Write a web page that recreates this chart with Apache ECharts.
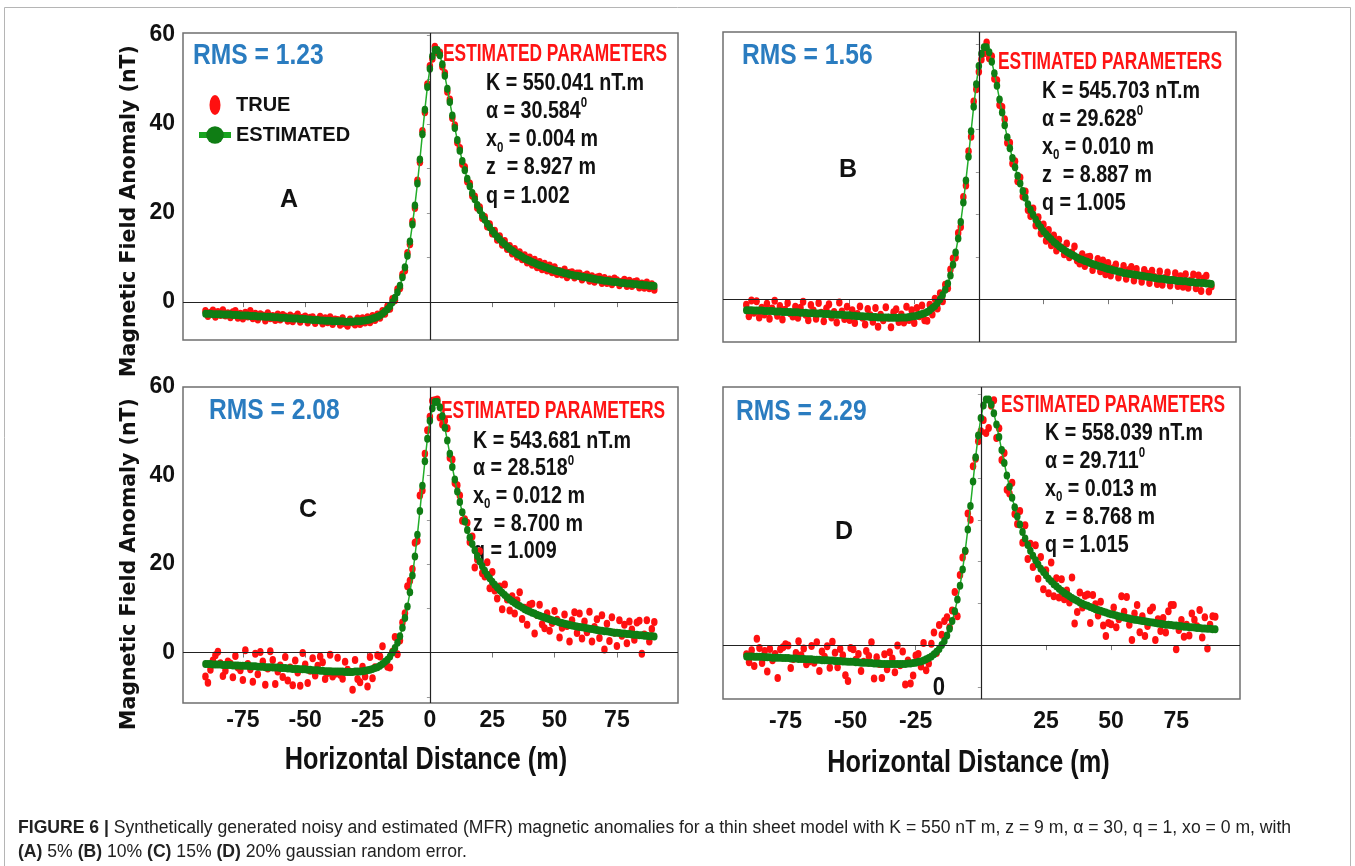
<!DOCTYPE html>
<html><head><meta charset="utf-8">
<script src="https://cdn.jsdelivr.net/npm/echarts@6/dist/echarts.min.js"></script>
<style>html,body{margin:0;padding:0;background:#fff}#c{width:1355px;height:866px}</style>
</head><body><div id="c"></div>
<script>
// ---------------- DATA ----------------
const xs = [-90,-89,-88,-87,-86,-85,-84,-83,-82,-81,-80,-79,-78,-77,-76,-75,-74,-73,-72,-71,-70,-69,-68,-67,-66,-65,-64,-63,-62,-61,-60,-59,-58,-57,-56,-55,-54,-53,-52,-51,-50,-49,-48,-47,-46,-45,-44,-43,-42,-41,-40,-39,-38,-37,-36,-35,-34,-33,-32,-31,-30,-29,-28,-27,-26,-25,-24,-23,-22,-21,-20,-19,-18,-17,-16,-15,-14,-13,-12,-11,-10,-9,-8,-7,-6,-5,-4,-3,-2,-1,0,1,2,3,4,5,6,7,8,9,10,11,12,13,14,15,16,17,18,19,20,21,22,23,24,25,26,27,28,29,30,31,32,33,34,35,36,37,38,39,40,41,42,43,44,45,46,47,48,49,50,51,52,53,54,55,56,57,58,59,60,61,62,63,64,65,66,67,68,69,70,71,72,73,74,75,76,77,78,79,80,81,82,83,84,85,86,87,88,89,90];

const estA = [-2.6,-2.6,-2.6,-2.7,-2.7,-2.7,-2.7,-2.8,-2.8,-2.8,
-2.8,-2.9,-2.9,-2.9,-3.0,-3.0,-3.0,-3.0,-3.1,-3.1,
-3.1,-3.2,-3.2,-3.2,-3.3,-3.3,-3.3,-3.4,-3.4,-3.4,
-3.5,-3.5,-3.5,-3.6,-3.6,-3.7,-3.7,-3.7,-3.8,-3.8,
-3.8,-3.9,-3.9,-4.0,-4.0,-4.0,-4.1,-4.1,-4.2,-4.2,
-4.2,-4.3,-4.3,-4.3,-4.3,-4.3,-4.4,-4.4,-4.4,-4.4,
-4.3,-4.3,-4.3,-4.2,-4.1,-4.0,-3.9,-3.7,-3.5,-3.3,
-3.0,-2.6,-2.1,-1.6,-0.9,0.0,1.0,2.2,3.7,5.6,
7.8,10.4,13.6,17.4,21.7,26.6,32.0,37.7,43.2,48.3,
52.4,55.2,56.6,56.6,55.4,53.4,50.8,47.9,44.9,41.9,
39.1,36.4,34.0,31.7,29.6,27.7,26.0,24.5,23.1,21.8,
20.6,19.5,18.5,17.6,16.8,16.0,15.3,14.7,14.1,13.5,
13.0,12.5,12.0,11.6,11.2,10.8,10.5,10.2,9.8,9.5,
9.3,9.0,8.8,8.5,8.3,8.1,7.9,7.7,7.5,7.3,
7.1,7.0,6.8,6.7,6.5,6.4,6.2,6.1,6.0,5.9,
5.8,5.7,5.6,5.5,5.4,5.3,5.2,5.1,5.0,4.9,
4.8,4.8,4.7,4.6,4.5,4.5,4.4,4.3,4.3,4.2,
4.2,4.1,4.0,4.0,3.9,3.9,3.8,3.8,3.7,3.7,3.6];

const trueA = [-2.0,-3.1,-2.4,-1.9,-3.3,-2.2,-2.9,-1.8,-3.0,-2.5,
-3.4,-2.3,-2.0,-3.5,-2.6,-3.7,-2.4,-3.2,-2.0,-3.6,
-2.6,-3.9,-2.7,-3.0,-4.1,-2.5,-3.6,-3.1,-4.0,-2.8,
-3.9,-2.9,-3.2,-4.2,-3.0,-4.3,-3.3,-2.8,-4.4,-3.5,
-3.2,-4.6,-3.5,-3.4,-4.7,-3.9,-3.3,-4.8,-3.6,-4.5,
-3.4,-4.9,-3.9,-4.0,-5.1,-3.6,-4.8,-5.3,-3.9,-4.6,
-5.0,-3.7,-4.9,-3.6,-4.6,-3.4,-4.5,-3.1,-4.0,-2.8,
-3.5,-2.0,-2.6,-0.9,-1.5,0.7,0.4,2.9,3.1,6.2,
7.1,11.0,13.0,18.1,21.1,27.3,31.4,38.4,42.6,48.9,
53.0,54.6,57.3,56.0,56.0,52.8,51.4,47.2,45.5,41.3,
39.7,35.8,34.6,31.0,30.3,27.1,26.6,23.9,23.7,21.2,
21.3,18.9,19.1,17.0,17.5,15.4,16.0,14.0,14.8,12.9,
13.7,11.9,12.6,10.9,11.9,10.2,11.2,9.6,10.5,8.9,
10.0,8.4,9.5,7.8,9.0,7.4,8.6,7.1,8.2,6.7,
7.8,6.3,7.0,6.2,7.3,5.6,6.6,6.7,5.5,6.4,
6.4,5.1,5.9,6.2,4.8,5.8,4.6,5.5,5.7,4.3,
5.4,4.3,5.1,4.0,5.3,4.9,3.8,4.6,5.0,3.6,
4.8,3.6,4.5,4.7,3.3,4.2,3.2,4.4,3.1,4.0,2.8];

const estB = [-2.6,-2.6,-2.6,-2.7,-2.7,-2.7,-2.7,-2.8,-2.8,-2.8,
-2.8,-2.9,-2.9,-2.9,-3.0,-3.0,-3.0,-3.0,-3.1,-3.1,
-3.1,-3.2,-3.2,-3.2,-3.3,-3.3,-3.3,-3.4,-3.4,-3.4,
-3.5,-3.5,-3.5,-3.6,-3.6,-3.7,-3.7,-3.7,-3.8,-3.8,
-3.8,-3.9,-3.9,-4.0,-4.0,-4.0,-4.1,-4.1,-4.2,-4.2,
-4.2,-4.3,-4.3,-4.3,-4.3,-4.3,-4.4,-4.4,-4.4,-4.4,
-4.3,-4.3,-4.3,-4.2,-4.1,-4.0,-3.9,-3.7,-3.5,-3.3,
-3.0,-2.6,-2.1,-1.6,-0.9,0.0,1.0,2.2,3.7,5.6,
8.1,11.0,14.3,18.2,22.8,28.0,33.6,39.6,45.4,50.7,
55.0,57.9,59.4,59.4,58.2,56.0,53.3,50.3,47.1,44.0,
41.0,38.2,35.6,33.3,31.1,29.1,27.3,25.5,23.9,22.4,
21.1,19.9,18.8,17.8,16.9,16.0,15.3,14.7,14.1,13.5,
13.0,12.5,12.0,11.6,11.2,10.8,10.5,10.2,9.8,9.5,
9.3,9.0,8.8,8.5,8.3,8.1,7.9,7.7,7.5,7.3,
7.1,7.0,6.8,6.7,6.5,6.4,6.2,6.1,6.0,5.9,
5.8,5.7,5.6,5.5,5.4,5.3,5.2,5.1,5.0,4.9,
4.8,4.8,4.7,4.6,4.5,4.5,4.4,4.3,4.3,4.2,
4.2,4.1,4.0,4.0,3.9,3.9,3.8,3.8,3.7,3.7,3.6];

const trueB = [-1.3,-4.0,-0.3,-3.2,-0.5,-4.3,-2.0,-3.6,-1.1,-4.6,
-2.2,-0.4,-3.9,-1.6,-4.8,-2.5,-0.9,-3.3,-4.1,-1.8,
-4.4,-2.0,-0.6,-3.7,-5.0,-1.4,-2.7,-4.6,-0.9,-3.2,
-5.2,-2.2,-1.2,-4.3,-3.0,-5.5,-0.8,-2.9,-4.7,-1.8,
-4.9,-2.6,-5.6,-3.5,-1.7,-4.4,-6.0,-2.3,-3.8,-5.3,
-2.1,-6.5,-3.7,-5.0,-1.9,-4.4,-6.6,-3.1,-2.4,-5.4,
-3.6,-5.5,-1.8,-4.9,-2.6,-5.6,-2.1,-4.0,-1.5,-5.0,
-5.1,-1.3,-3.6,0.1,-2.2,1.4,-0.5,3.4,2.6,7.0,
9.6,9.8,15.6,17.0,24.1,26.8,34.9,38.3,46.6,49.5,
53.6,56.5,58.0,60.5,56.8,57.3,52.0,51.6,45.8,45.3,
42.4,36.9,36.9,32.0,32.5,27.8,28.7,24.2,25.4,21.0,
19.6,21.4,17.4,19.3,15.5,17.6,13.8,16.3,12.7,15.0,
11.5,14.0,12.2,10.6,13.1,9.9,11.0,12.4,9.1,8.4,
10.6,7.8,9.9,10.0,6.9,8.1,9.5,6.6,9.1,5.9,
8.5,5.6,7.3,8.2,5.1,6.6,7.8,4.8,6.9,7.6,
4.4,7.1,5.6,4.1,6.9,6.0,3.8,6.7,5.2,3.6,
6.5,3.4,5.0,6.3,3.2,4.6,6.1,3.1,5.4,2.9,
5.9,2.7,4.4,5.8,2.6,5.6,1.9,4.9,5.5,1.8,3.0];

const estC = [-2.6,-2.6,-2.6,-2.7,-2.7,-2.7,-2.7,-2.8,-2.8,-2.8,
-2.8,-2.9,-2.9,-2.9,-3.0,-3.0,-3.0,-3.0,-3.1,-3.1,
-3.1,-3.2,-3.2,-3.2,-3.3,-3.3,-3.3,-3.4,-3.4,-3.4,
-3.5,-3.5,-3.5,-3.6,-3.6,-3.7,-3.7,-3.7,-3.8,-3.8,
-3.8,-3.9,-3.9,-4.0,-4.0,-4.0,-4.1,-4.1,-4.2,-4.2,
-4.2,-4.3,-4.3,-4.3,-4.3,-4.3,-4.4,-4.4,-4.4,-4.4,
-4.3,-4.3,-4.3,-4.2,-4.1,-4.0,-3.9,-3.7,-3.5,-3.3,
-3.0,-2.6,-2.1,-1.6,-0.9,0.0,1.0,2.2,3.7,5.6,
7.8,10.4,13.6,17.4,21.7,26.6,32.0,37.7,43.2,48.3,
52.4,55.2,56.6,56.6,55.4,53.4,50.8,47.9,44.9,41.9,
39.1,36.4,34.0,31.7,29.6,27.7,26.0,24.5,23.1,21.8,
20.6,19.5,18.5,17.6,16.8,16.0,15.3,14.7,14.1,13.5,
13.0,12.5,12.0,11.6,11.2,10.8,10.5,10.2,9.8,9.5,
9.3,9.0,8.8,8.5,8.3,8.1,7.9,7.7,7.5,7.3,
7.1,7.0,6.8,6.7,6.5,6.4,6.2,6.1,6.0,5.9,
5.8,5.7,5.6,5.5,5.4,5.3,5.2,5.1,5.0,4.9,
4.8,4.8,4.7,4.6,4.5,4.5,4.4,4.3,4.3,4.2,
4.2,4.1,4.0,4.0,3.9,3.9,3.8,3.8,3.7,3.7,3.6];

const trueC = [-5.4,-6.8,-3.9,-1.8,-0.6,0.2,-2.4,-5.3,-4.1,-2.0,
-2.5,-5.6,-0.8,-3.4,-4.0,-6.2,0.5,-2.6,-3.8,-6.6,
-0.3,-4.9,0.1,-2.0,-7.3,-3.6,0.3,-1.7,-7.1,-4.3,
-2.9,-5.5,-1.0,-6.3,-3.4,-7.4,-1.8,-4.5,-7.5,-0.1,
-2.7,-6.9,-4.1,-1.3,-5.2,-3.0,-0.9,-2.2,-6.0,-4.6,
-0.5,-5.4,-4.8,-1.2,-5.0,-5.9,-2.1,-3.9,-4.4,-8.4,
-1.7,-6.0,-6.7,-3.2,-5.4,-7.7,-1.0,-5.8,-3.3,-0.6,
-0.9,1.4,-2.3,-3.2,-3.4,0.2,3.5,-0.4,2.7,6.8,
8.9,15.0,16.2,18.9,24.8,25.2,35.5,36.6,44.9,50.2,
53.3,56.9,57.0,57.2,53.1,51.5,52.4,50.7,44.0,43.6,
38.3,37.8,35.5,29.8,30.1,29.3,25.0,26.2,19.2,21.0,
22.9,17.9,17.2,20.4,14.5,18.2,14.0,12.2,14.9,9.8,
15.4,12.0,9.5,12.7,8.8,11.8,13.6,7.6,10.1,6.3,
10.8,11.0,4.3,8.5,10.8,6.4,5.5,8.9,4.9,6.7,
9.4,7.4,3.4,5.6,8.6,6.0,2.5,7.3,9.1,4.4,
8.8,3.2,7.0,4.6,9.2,2.5,5.8,7.5,3.3,8.4,
0.7,6.5,2.6,8.0,4.5,1.5,7.3,3.8,6.3,2.1,
7.0,5.2,2.9,6.8,7.2,-0.3,4.1,7.3,2.5,5.3,6.9];

const estD = [-2.7,-2.7,-2.7,-2.8,-2.8,-2.8,-2.8,-2.9,-2.9,-2.9,
-3.0,-3.0,-3.0,-3.0,-3.1,-3.1,-3.1,-3.2,-3.2,-3.2,
-3.3,-3.3,-3.3,-3.4,-3.4,-3.4,-3.5,-3.5,-3.5,-3.6,
-3.6,-3.6,-3.7,-3.7,-3.8,-3.8,-3.8,-3.9,-3.9,-4.0,
-4.0,-4.0,-4.1,-4.1,-4.2,-4.2,-4.2,-4.3,-4.3,-4.4,
-4.4,-4.4,-4.5,-4.5,-4.5,-4.5,-4.5,-4.5,-4.5,-4.5,
-4.5,-4.5,-4.4,-4.4,-4.3,-4.2,-4.0,-3.9,-3.7,-3.4,
-3.1,-2.7,-2.2,-1.6,-0.9,0.0,1.0,2.3,3.9,5.8,
8.1,10.9,14.2,18.1,22.6,27.7,33.3,39.2,45.0,50.2,
54.4,57.4,58.8,58.8,57.6,55.5,52.8,49.8,46.7,43.6,
40.6,37.9,35.3,33.0,30.8,28.9,27.1,25.5,24.0,22.6,
21.4,20.3,19.3,18.3,17.5,16.7,15.9,15.3,14.6,14.1,
13.5,13.0,12.5,12.1,11.7,11.3,10.9,10.6,10.2,9.9,
9.6,9.4,9.1,8.9,8.6,8.4,8.2,8.0,7.8,7.6,
7.4,7.3,7.1,6.9,6.8,6.6,6.5,6.4,6.2,6.1,
6.0,5.9,5.8,5.7,5.6,5.5,5.4,5.3,5.2,5.1,
5.0,4.9,4.9,4.8,4.7,4.7,4.6,4.5,4.4,4.4,
4.3,4.3,4.2,4.1,4.1,4.0,4.0,3.9,3.9,3.8,3.8];

const trueD = [-2.2,-4.1,-1.2,-5.0,1.5,-0.7,-4.3,-1.4,-6.3,-0.9,
-3.6,-2.1,-7.9,-1.0,-0.5,0.2,-0.1,-5.5,-3.3,-1.9,
0.9,-2.4,-0.8,-4.6,-3.9,-0.2,-4.2,0.7,-6.2,-1.5,
-2.8,-0.3,-5.4,0.8,-1.8,-5.3,-0.9,-2.4,-7.2,-8.6,
-0.7,-1.0,-3.5,-2.1,-6.2,-4.0,-1.4,-2.6,0.7,-8.0,
-2.9,-4.5,-7.9,-2.2,-5.8,-1.7,-3.2,-6.5,-0.1,-4.8,
-1.5,-9.4,-3.7,-9.2,-7.3,-2.5,-2.1,-5.1,0.5,-6.0,
-4.4,0.3,3.0,-1.9,4.8,2.5,5.8,6.7,4.3,8.3,
12.7,6.9,16.8,21.0,22.5,31.5,30.0,42.8,44.6,48.8,
51.2,53.9,50.8,52.0,57.3,58.6,49.6,51.9,44.3,46.0,
37.2,36.3,38.9,31.4,29.0,32.1,24.5,28.7,20.6,24.3,
18.7,23.9,15.9,21.1,13.4,17.9,12.4,19.8,11.7,16.0,
11.4,15.8,11.0,13.1,10.2,16.2,5.2,7.9,12.6,9.0,
11.8,12.1,5.3,12.0,9.8,7.1,10.4,4.7,2.2,5.3,
5.0,9.0,4.3,6.2,11.7,8.0,11.5,4.9,1.2,7.6,
9.6,3.1,6.9,2.2,4.6,8.3,9.0,1.2,6.2,3.4,
6.5,3.0,8.1,9.6,9.6,-1.0,3.6,6.0,2.0,4.9,
2.3,7.6,6.1,4.5,8.4,1.8,6.7,-0.8,4.9,6.9,6.8];

const xTickValues = [-75,-50,-25,0,25,50,75];
const xLabelsC = [-75,-50,-25,0,25,50,75];
const xLabelsD = [-75,-50,-25,25,50,75];
const yTicksA = [0,10,20,30,40,50,60];
const yTicksBCD = [-10,0,10,20,30,40,50,60];
const yLabelsAC = [0,20,40,60];

const rmsTexts = ['RMS = 1.23','RMS = 1.56','RMS = 2.08','RMS = 2.29'];
const letters = ['A','B','C','D'];
const paramK = ['550.041','545.703','543.681','558.039'];
const paramAlpha = ['30.584','29.628','28.518','29.711'];
const paramX0 = ['0.004','0.010','0.012','0.013'];
const paramZ = ['8.927','8.887','8.700','8.768'];
const paramQ = ['1.002','1.005','1.009','1.015'];

// ---------------- LAYOUT ----------------
const SANS = "'Liberation Sans', Arial, Helvetica, sans-serif";
const ELL = 'path://M1,0A1,1 0 1,1 1,2A1,1 0 1,1 1,0Z';
const LEG_ELL = 'path://M0,0.01L0,0M32,10.01L32,10M16,0A5.5,10 0 1,1 16,20A5.5,10 0 1,1 16,0Z';

const panels = [
  {grid:{left:183,top:33,width:495,height:307}, ymin:-8.5, ymax:60.4, yTicks:yTicksA, yLabels:yLabelsAC, xLabels:[], xMargin:6, tr:trueA, est:estA},
  {grid:{left:723,top:32,width:513,height:310}, ymin:-10.1, ymax:63.0, yTicks:yTicksBCD, yLabels:[], xLabels:[], xMargin:6, tr:trueB, est:estB},
  {grid:{left:183,top:387,width:495,height:316}, ymin:-11.4, ymax:60, yTicks:yTicksBCD, yLabels:yLabelsAC, xLabels:xLabelsC, xMargin:6, tr:trueC, est:estC},
  {grid:{left:723,top:387,width:517,height:312}, ymin:-12.9, ymax:61.8, yTicks:yTicksBCD, yLabels:[], xLabels:xLabelsD, xMargin:11, tr:trueD, est:estD}
];
const textPos = [
  {rms:[193,56], est:[443,55], par:[486,83.5,28.1], letter:[289,200]},
  {rms:[742,56], est:[998,63], par:[1042,91.5,27.9], letter:[848,170]},
  {rms:[209,411], est:[441,412], par:[473,441,27.7], letter:[308,510]},
  {rms:[736,412], est:[1001,406], par:[1045,433.5,28], letter:[844,532]}
];

const grids = [], xAxes = [], yAxes = [], series = [], graphics = [];
panels.forEach((p, i) => {
  grids.push(Object.assign({show:true, borderColor:'#6f6f6f', borderWidth:1.5, backgroundColor:'#fff'}, p.grid));
  xAxes.push({
    gridIndex:i, type:'value', min:-99, max:99.5,
    axisLine:{show:false}, splitLine:{show:false},
    axisTick:{show:true, customValues:xTickValues, length:5, lineStyle:{color:'#777', width:1}},
    axisLabel:{show:p.xLabels.length>0, customValues:p.xLabels, margin:p.xMargin,
      fontFamily:SANS, fontWeight:'bold', fontSize:23, color:'#111'}
  });
  yAxes.push({
    gridIndex:i, type:'value', min:p.ymin, max:p.ymax,
    axisLine:{show:false}, splitLine:{show:false},
    axisTick:{show:true, customValues:p.yTicks, length:3, lineStyle:{color:'#999', width:1}},
    axisLabel:{show:p.yLabels.length>0, customValues:p.yLabels, margin:8,
      fontFamily:SANS, fontWeight:'bold', fontSize:23, color:'#111'}
  });
  series.push({
    name:'TRUE', type:'scatter', xAxisIndex:i, yAxisIndex:i,
    symbol:ELL, symbolSize:[6.5,8], itemStyle:{color:'#ff1010', opacity:1},
    data: xs.map((x,k)=>[x, p.tr[k]]),
    markLine:{silent:true, symbol:'none', label:{show:false}, animation:false,
      lineStyle:{color:'#222', width:1.2, type:'solid'},
      emphasis:{disabled:true},
      data:[{xAxis:0},{yAxis:0}]}
  });
  series.push({
    name:'ESTIMATED', type:'line', xAxisIndex:i, yAxisIndex:i,
    symbol:ELL, symbolSize:[6.5,8], showSymbol:true, showAllSymbol:true,
    itemStyle:{color:'#0f7d14'}, lineStyle:{color:'#22ad2a', width:1.5},
    data: xs.map((x,k)=>[x, p.est[k]]), z:3
  });

  const tp = textPos[i];
  graphics.push({type:'text', x:tp.rms[0], y:tp.rms[1], scaleX:0.82, silent:true,
    style:{text:rmsTexts[i], font:`bold 30px ${SANS}`, fill:'#2a7cc0', verticalAlign:'middle'}});
  graphics.push({type:'text', x:tp.est[0], y:tp.est[1], scaleX:0.755, silent:true,
    style:{text:'ESTIMATED PARAMETERS', font:`bold 23px ${SANS}`, fill:'#ff1414', verticalAlign:'middle'}});
  const rich = {
    n:{fontFamily:SANS, fontWeight:'bold', fontSize:24, fill:'#111', lineHeight:30},
    sup:{fontFamily:SANS, fontWeight:'bold', fontSize:14, fill:'#111', lineHeight:30, verticalAlign:'top'},
    sub:{fontFamily:SANS, fontWeight:'bold', fontSize:14, fill:'#111', lineHeight:30, verticalAlign:'bottom'}
  };
  const lines = [
    `{n|K = ${paramK[i]} nT.m}`,
    `{n|α = ${paramAlpha[i]}}{sup|0}`,
    `{n|x}{sub|0}{n| = ${paramX0[i]} m}`,
    `{n|z  = ${paramZ[i]} m}`,
    `{n|q = ${paramQ[i]}}`
  ];
  lines.forEach((t, k) => {
    graphics.push({type:'text', x:tp.par[0], y:tp.par[1] + k*tp.par[2], scaleX:0.82, silent:true,
      style:{text:t, rich:rich, verticalAlign:'middle', align:'left'}});
  });
  graphics.push({type:'text', x:tp.letter[0], y:tp.letter[1], silent:true,
    style:{text:letters[i], font:`bold 25px ${SANS}`, fill:'#111', align:'center', verticalAlign:'middle'}});
});

// axis titles
['Magnetic Field Anomaly (nT)','Magnetic Field Anomaly (nT)'].forEach((t, k) => {
  graphics.push({type:'text', x:130, y:[211,564][k], rotation:Math.PI/2, silent:true,
    style:{text:t, font:"bold 20.5px 'DejaVu Sans', sans-serif", fill:'#111', align:'center', verticalAlign:'middle'}});
});
[[426,760],[968.5,763]].forEach(pos => {
  graphics.push({type:'text', x:pos[0], y:pos[1], scaleX:0.79, silent:true,
    style:{text:'Horizontal Distance (m)', font:`bold 32px ${SANS}`, fill:'#111', align:'center', verticalAlign:'middle'}});
});
// D: displaced zero label
graphics.push({type:'text', x:939, y:688, scaleX:0.85, silent:true,
  style:{text:'0', font:`bold 26px ${SANS}`, fill:'#111', align:'center', verticalAlign:'middle'}});

// caption
const capRich = {
  b:{fontFamily:SANS, fontWeight:'bold', fontSize:17.6, fill:'#222'},
  r:{fontFamily:SANS, fontSize:17.6, fill:'#222'}
};
graphics.push({type:'text', x:18, y:828, scaleX:1.0, silent:true,
  style:{text:'{b|FIGURE 6 |}{r| Synthetically generated noisy and estimated (MFR) magnetic anomalies for a thin sheet model with K = 550 nT m, z = 9 m, α = 30, q = 1, xo = 0 m, with}',
    rich:capRich, verticalAlign:'middle'}});
graphics.push({type:'text', x:18, y:852, scaleX:1.0, silent:true,
  style:{text:'{b|(A)}{r| 5% }{b|(B)}{r| 10% }{b|(C)}{r| 15% }{b|(D)}{r| 20% gaussian random error.}',
    rich:capRich, verticalAlign:'middle'}});
// outer frame
graphics.push({type:'rect', silent:true, z:-10, shape:{x:4.5,y:7.5,width:1346,height:870},
  style:{fill:'none', stroke:'#b5b5b5', lineWidth:1}});

const chart = echarts.init(document.getElementById('c'), null, {renderer:'canvas'});
chart.setOption({
  animation:false,
  backgroundColor:'#fff',
  grid:grids, xAxis:xAxes, yAxis:yAxes, series:series,
  legend:{
    left:191, top:90, orient:'vertical', itemGap:10, itemWidth:32, itemHeight:22, selectedMode:false,
    textStyle:{fontFamily:SANS, fontWeight:'bold', fontSize:20, color:'#111'},
    data:[{name:'TRUE', icon:LEG_ELL}, {name:'ESTIMATED', lineStyle:{width:6, color:'#18a51f'}}]
  },
  graphic:{elements:graphics}
});
</script></body></html>
